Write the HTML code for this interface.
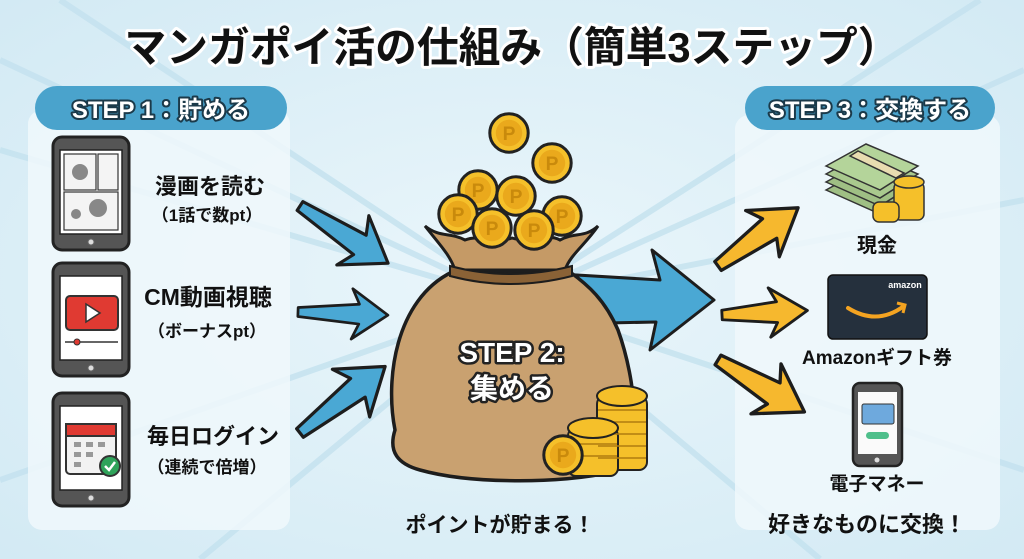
<!DOCTYPE html>
<html><head><meta charset="utf-8"><style>
html,body{margin:0;padding:0;width:1024px;height:559px;overflow:hidden;background:#dff0f8}
svg{display:block}
text{font-family:"Liberation Sans","Noto Sans CJK JP",sans-serif;font-weight:bold}
</style></head><body>
<svg width="1024" height="559" viewBox="0 0 1024 559" xmlns="http://www.w3.org/2000/svg">
<defs>
<radialGradient id="bg" cx="50%" cy="50%" r="70%"><stop offset="0" stop-color="#eaf6fb"/><stop offset="1" stop-color="#d3eaf4"/></radialGradient>
<g id="coin"><circle r="16" fill="#f5c02a" stroke="#222" stroke-width="2.5"/><circle r="11" fill="#eaa91c"/><text x="0" y="6" font-size="16" text-anchor="middle" fill="#c98a0c">P</text></g>
<g id="barrow"><polygon points="0,-5 68,-11 60,-28 100,0 60,28 68,11 0,5" fill="#4aa8d4" stroke="#1d1d1d" stroke-width="3" stroke-linejoin="round"/></g>
<g id="oarrow"><polygon points="0,-5 58,-11 50,-26 90,0 50,26 58,11 0,5" fill="#f6b82e" stroke="#1d1d1d" stroke-width="3" stroke-linejoin="round"/></g>
</defs>
<rect width="1024" height="559" fill="url(#bg)"/>
<g stroke="#c4e2ef" stroke-width="6" opacity="0.8">
<line x1="512" y1="300" x2="0" y2="60"/><line x1="512" y1="300" x2="0" y2="150"/><line x1="512" y1="300" x2="0" y2="480"/><line x1="512" y1="300" x2="60" y2="0"/><line x1="512" y1="300" x2="1024" y2="70"/><line x1="512" y1="300" x2="1024" y2="200"/><line x1="512" y1="300" x2="1024" y2="470"/><line x1="512" y1="300" x2="980" y2="0"/><line x1="512" y1="300" x2="200" y2="559"/><line x1="512" y1="300" x2="820" y2="559"/>
</g>
<text x="512" y="62" font-size="42" text-anchor="middle" textLength="775" lengthAdjust="spacingAndGlyphs" fill="#111" stroke="#fff" stroke-width="6" paint-order="stroke" stroke-linejoin="round">マンガポイ活の仕組み（簡単3ステップ）</text>
<rect x="28" y="110" width="262" height="420" rx="14" fill="#f0f8fc" opacity="0.85"/>
<rect x="35" y="86" width="252" height="44" rx="22" fill="#4aa3cc"/>
<text x="161" y="118" font-size="24" text-anchor="middle" fill="#fff" stroke="#1b3a4a" stroke-width="4" paint-order="stroke" stroke-linejoin="round">STEP 1：貯める</text>
<g stroke="#222" stroke-width="3">
<rect x="53" y="137" width="76" height="113" rx="9" fill="#555"/><rect x="60" y="150" width="62" height="84" fill="#fff" stroke-width="1.5"/>
<rect x="53" y="263" width="76" height="113" rx="9" fill="#555"/><rect x="60" y="276" width="62" height="84" fill="#fff" stroke-width="1.5"/>
<rect x="53" y="393" width="76" height="113" rx="9" fill="#555"/><rect x="60" y="406" width="62" height="84" fill="#fff" stroke-width="1.5"/>
</g>
<g fill="#ddd" stroke="#666" stroke-width="1"><circle cx="91" cy="242" r="3"/><circle cx="91" cy="368" r="3"/><circle cx="91" cy="498" r="3"/></g>
<g stroke="#333" stroke-width="1.2" fill="#f4f4f4"><rect x="64" y="154" width="32" height="36"/><rect x="98" y="154" width="20" height="36"/><rect x="64" y="192" width="54" height="38"/></g>
<g fill="#888"><circle cx="80" cy="172" r="8"/><circle cx="98" cy="208" r="9"/><circle cx="76" cy="214" r="5"/></g>
<rect x="66" y="296" width="52" height="34" rx="4" fill="#e03a32" stroke="#333" stroke-width="2"/>
<polygon points="86,304 86,322 100,313" fill="#fff" stroke="#333" stroke-width="1.5"/>
<line x1="65" y1="342" x2="118" y2="342" stroke="#333" stroke-width="1.5"/><circle cx="77" cy="342" r="3" fill="#e03a32" stroke="#333"/>
<rect x="66" y="424" width="50" height="50" rx="4" fill="#f2f2f2" stroke="#333" stroke-width="2"/>
<rect x="66" y="424" width="50" height="12" fill="#e03a32" stroke="#333" stroke-width="2"/>
<g fill="#999"><rect x="74" y="442" width="7" height="5"/><rect x="86" y="442" width="7" height="5"/><rect x="98" y="442" width="7" height="5"/><rect x="74" y="452" width="7" height="5"/><rect x="86" y="452" width="7" height="5"/><rect x="74" y="462" width="7" height="5"/></g>
<circle cx="110" cy="466" r="10" fill="#2fa35a" stroke="#333" stroke-width="2"/><polyline points="105,466 109,470 115,462" fill="none" stroke="#fff" stroke-width="2.5"/>
<g font-size="22" text-anchor="middle" fill="#111">
<text x="210" y="194">漫画を読む</text><text x="208" y="305" font-size="23">CM動画視聴</text><text x="213" y="444">毎日ログイン</text>
</g>
<g font-size="17" text-anchor="middle" fill="#111">
<text x="207" y="221">（1話で数pt）</text><text x="207" y="337">（ボーナスpt）</text><text x="207" y="473">（連続で倍増）</text>
</g>
<use href="#barrow" transform="translate(300,206) rotate(33) scale(1.05)"/>
<use href="#barrow" transform="translate(298,312) rotate(2) scale(0.9)"/>
<use href="#barrow" transform="translate(300,433) rotate(-38) scale(1.08)"/>
<polygon points="560,274 660,280 652,250 714,300 650,350 656,322 560,324" fill="#4aa8d4" stroke="#1d1d1d" stroke-width="3" stroke-linejoin="round"/>
<path d="M452,272 C395,300 385,380 395,430 C388,452 398,464 420,470 C470,484 560,484 612,472 C645,458 636,380 618,330 C605,300 588,285 570,272 Z" fill="#c9a170" stroke="#1d1d1d" stroke-width="3.5"/>
<path d="M425,226 C440,245 450,255 455,270 L565,270 C570,255 585,245 598,226 C585,238 575,232 560,240 C545,232 530,244 512,238 C495,244 480,234 465,240 C450,232 440,238 425,226 Z" fill="#c59a66" stroke="#1d1d1d" stroke-width="3"/>
<path d="M450,266 Q510,282 572,266 L572,276 Q510,292 450,276 Z" fill="#8a6236" stroke="#1d1d1d" stroke-width="2"/>
<use href="#coin" transform="translate(478,190) scale(1.2)"/><use href="#coin" transform="translate(516,196) scale(1.2)"/><use href="#coin" transform="translate(458,214) scale(1.2)"/><use href="#coin" transform="translate(562,216) scale(1.2)"/><use href="#coin" transform="translate(492,228) scale(1.2)"/><use href="#coin" transform="translate(534,230) scale(1.2)"/>
<use href="#coin" transform="translate(509,133) scale(1.2)"/><use href="#coin" transform="translate(552,163) scale(1.2)"/>
<text x="512" y="362" font-size="28" text-anchor="middle" fill="#fff" stroke="#222" stroke-width="5" paint-order="stroke" stroke-linejoin="round">STEP 2:</text>
<text x="512" y="398" font-size="28" text-anchor="middle" fill="#fff" stroke="#222" stroke-width="5" paint-order="stroke" stroke-linejoin="round">集める</text>
<g fill="#f5c02a" stroke="#222" stroke-width="2">
<rect x="597" y="396" width="50" height="74" rx="8"/><rect x="568" y="428" width="50" height="48" rx="8"/>
</g>
<g stroke="#b07c10" stroke-width="1.5"><line x1="598" y1="410" x2="646" y2="410"/><line x1="598" y1="422" x2="646" y2="422"/><line x1="598" y1="434" x2="646" y2="434"/><line x1="598" y1="446" x2="646" y2="446"/><line x1="598" y1="458" x2="646" y2="458"/><line x1="569" y1="444" x2="617" y2="444"/><line x1="569" y1="456" x2="617" y2="456"/></g>
<ellipse cx="622" cy="396" rx="25" ry="10" fill="#f5c02a" stroke="#222" stroke-width="2"/>
<ellipse cx="593" cy="428" rx="25" ry="10" fill="#f5c02a" stroke="#222" stroke-width="2"/>
<use href="#coin" transform="translate(563,455) scale(1.2)"/>
<text x="500" y="532" font-size="21" text-anchor="middle" fill="#111">ポイントが貯まる！</text>
<rect x="735" y="115" width="265" height="415" rx="14" fill="#f0f8fc" opacity="0.85"/>
<rect x="745" y="86" width="250" height="44" rx="22" fill="#4aa3cc"/>
<text x="870" y="118" font-size="24" text-anchor="middle" fill="#fff" stroke="#1b3a4a" stroke-width="4" paint-order="stroke" stroke-linejoin="round">STEP 3：交換する</text>
<g stroke="#333" stroke-width="1.5">
<polygon points="826,190 880,214 918,190 866,168" fill="#9fbf84"/>
<polygon points="826,182 880,206 918,182 866,160" fill="#9fbf84"/>
<polygon points="826,174 880,198 918,174 866,152" fill="#a9c98e"/>
<polygon points="826,166 880,190 918,166 866,144" fill="#b4d49a"/>
<polygon points="850,156 896,178 904,173 858,151" fill="#e8dcb0"/>
</g>
<g fill="#f5c02a" stroke="#333" stroke-width="1.5"><rect x="894" y="182" width="30" height="38" rx="6"/><rect x="873" y="202" width="26" height="20" rx="6"/></g>
<ellipse cx="909" cy="182" rx="15" ry="6" fill="#f5c02a" stroke="#333" stroke-width="1.5"/>
<text x="877" y="252" font-size="20" text-anchor="middle" fill="#111">現金</text>
<rect x="828" y="275" width="99" height="64" rx="5" fill="#25303d" stroke="#111" stroke-width="1.5"/>
<text x="905" y="288" font-size="9" text-anchor="middle" fill="#fff" font-weight="normal">amazon</text>
<path d="M848,308 Q877,326 904,306" fill="none" stroke="#f4a321" stroke-width="4" stroke-linecap="round"/>
<polyline points="897,303 905,305 903,313" fill="none" stroke="#f4a321" stroke-width="3"/>
<text x="877" y="364" font-size="19" text-anchor="middle" fill="#111">Amazonギフト券</text>
<rect x="853" y="383" width="49" height="83" rx="7" fill="#555" stroke="#222" stroke-width="2.5"/>
<rect x="858" y="392" width="39" height="62" fill="#fafafa"/>
<rect x="862" y="404" width="32" height="20" rx="2" fill="#6ea9dd" stroke="#333" stroke-width="1"/>
<rect x="866" y="432" width="23" height="7" rx="3.5" fill="#4fbf8b"/>
<circle cx="877" cy="460" r="2.5" fill="#ddd"/>
<text x="877" y="490" font-size="19" text-anchor="middle" fill="#111">電子マネー</text>
<text x="867" y="532" font-size="22" text-anchor="middle" fill="#111">好きなものに交換！</text>
<use href="#oarrow" transform="translate(718,266) rotate(-36) scale(1.1)"/>
<use href="#oarrow" transform="translate(722,315) rotate(-3) scale(0.95)"/>
<use href="#oarrow" transform="translate(718,360) rotate(31) scale(1.12)"/>
</svg>
</body></html>
